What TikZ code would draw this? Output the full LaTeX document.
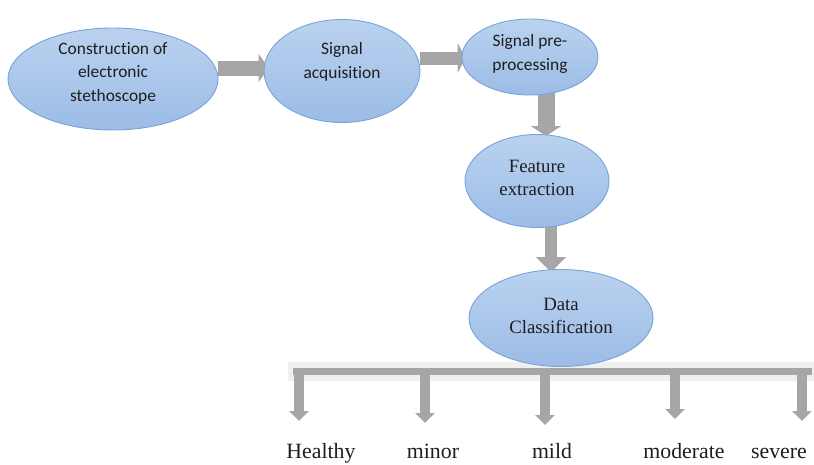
\documentclass[tikz,border=0pt]{standalone}
\usepackage{fontspec}
\newfontfamily\calfont[Ligatures=NoCommon]{Carlito}
\newfontfamily\timesfont{Liberation Serif}
\usetikzlibrary{arrows.meta,calc,shapes.geometric,backgrounds}
\definecolor{ellTop}{HTML}{BAD2EF}
\definecolor{ellBot}{HTML}{9CBCE6}
\definecolor{ellLine}{HTML}{76A3DA}
\definecolor{arrGray}{HTML}{A6A6A6}
\definecolor{barHalo}{HTML}{F0F0F0}
\definecolor{txt}{HTML}{1E1E1E}
\begin{document}
\begin{tikzpicture}[x=1pt,y=-1pt,
  ell/.style={ellipse, draw=ellLine, line width=0.9pt, top color=ellTop,
    bottom color=ellBot, inner sep=0pt},
  caltxt/.style={align=center, text=txt, inner sep=0pt,
    font=\calfont\fontsize{17.4}{23.5}\selectfont},
  tmstxt/.style={align=center, text=txt, inner sep=0pt,
    font=\timesfont\fontsize{18.8}{22.5}\selectfont},
  lab/.style={text=txt, inner sep=0pt, anchor=base,
    font=\timesfont\fontsize{21.8}{26}\selectfont},
  blk/.style={arrGray, line cap=butt}]
\useasboundingbox (0,0) rectangle (814,464);

% process ellipses
\node[ell, minimum width=210pt, minimum height=102pt] (e1) at (113,79) {};
\node[ell, minimum width=156pt, minimum height=103pt] (e2) at (342,71) {};
\node[ell, minimum width=136pt, minimum height=76pt]  (e3) at (530,57) {};
\node[ell, minimum width=144pt, minimum height=93pt]  (e4) at (537,181) {};
\node[ell, minimum width=184pt, minimum height=97pt]  (e5) at (561,318) {};

% ellipse texts
\node[caltxt] (t1) at (113,73) {Construction of\\electronic\\stethoscope};
\node[caltxt] (t2) at (342,62) {Signal\\acquisition};
\node[caltxt] (t3) at (530,54) {Signal pre-\\processing};
\node[tmstxt] (t4) at (537,178) {Feature\\extraction};
\node[tmstxt] (t5) at (561,316) {Data\\Classification};

% class labels
\node[lab] (l1) at (321,458) {Healthy};
\node[lab] (l2) at (433,458) {minor};
\node[lab] (l3) at (552,458) {mild};
\node[lab] (l4) at (684,458) {moderate};
\node[lab] (l5) at (779,458) {severe};

% distribution bar and its drop points
\coordinate (bl) at (293,371.5);
\coordinate (br) at (812,371.5);
\coordinate (d1) at (299,371.5);
\coordinate (d2) at (425,371.5);
\coordinate (d3) at (545,371.5);
\coordinate (d4) at (675,371.5);
\coordinate (d5) at (802,371.5);
\coordinate (p1) at (299,421);
\coordinate (p2) at (425,423);
\coordinate (p3) at (545,425);
\coordinate (p4) at (675,419);
\coordinate (p5) at (802,421);

\begin{scope}[on background layer]
  % block arrows between stages
  \draw[blk, line width=15pt, -{Triangle[width=28pt,length=10pt]}]
    ($(e1.east)+(0,-11)$) -- ($(e2.west)+(5,-3)$);
  \draw[blk, line width=13pt, -{Triangle[width=30pt,length=8pt]}]
    ($(e2.east)+(0,-13)$) -- ($(e3.west)+(4,1)$);
  \draw[blk, line width=17pt, -{Triangle[width=30pt,length=10pt]}]
    ($(e3.south)+(16,-2)$) -- ($(e4.north)+(9,2)$);
  \draw[blk, line width=12pt, -{Triangle[width=29pt,length=15pt]}]
    ($(e4.south)+(14,-4)$) -- ($(e5.north)+(-10,3)$);
  % bar with its soft halo
  \fill[barHalo] (288,362) rectangle (814,381);
  \draw[blk, line width=7pt] (bl) -- (br);
  \foreach \i in {1,...,5}
    \draw[blk, line width=10pt, -{Triangle[width=19pt,length=10pt]}]
      ($(d\i)+(0,-2)$) -- (p\i);
\end{scope}
\end{tikzpicture}
\end{document}
